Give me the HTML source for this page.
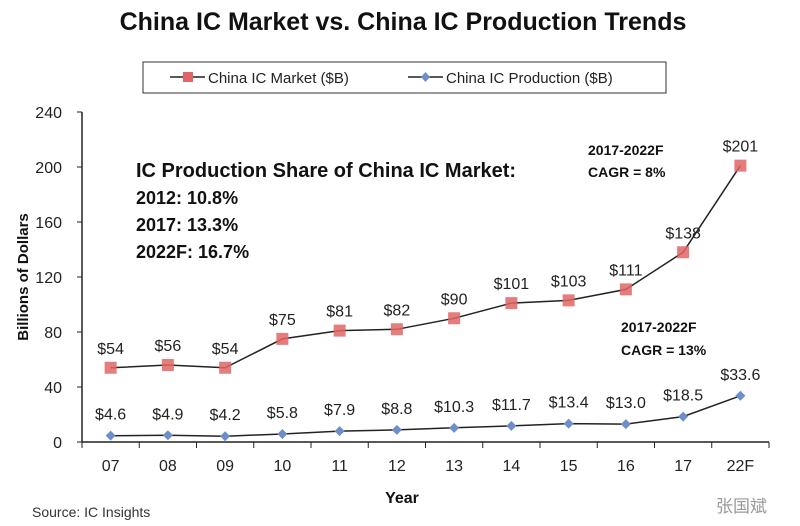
<!DOCTYPE html>
<html><head><meta charset="utf-8"><style>
body{margin:0;background:#fff;}
svg{display:block;font-family:"Liberation Sans","Noto Sans CJK SC",sans-serif;}
</style></head><body>
<svg id="c" width="800" height="526" viewBox="0 0 800 526">
<text x="403" y="30" text-anchor="middle" font-size="25" font-weight="bold" fill="#111">China IC Market vs. China IC Production Trends</text>
<g>
<rect x="143" y="62" width="523" height="31" fill="#fff" stroke="#333" stroke-width="1"/>
<g><line x1="170" y1="77" x2="205" y2="77" stroke="#222" stroke-width="1.5"/><rect x="183" y="72" width="10" height="10" fill="#e06666"/><text x="208" y="83" font-size="15" fill="#222">China IC Market ($B)</text></g>
<g><line x1="408" y1="77" x2="443" y2="77" stroke="#222" stroke-width="1.5"/><path d="M425.5 72 L430 77 L425.5 82 L421 77Z" fill="#6d8fc9"/><text x="446" y="83" font-size="15" fill="#222">China IC Production ($B)</text></g>
</g>
<text transform="translate(28,277) rotate(-90)" text-anchor="middle" font-size="15" font-weight="bold" fill="#111">Billions of Dollars</text>
<text x="402" y="503" text-anchor="middle" font-size="16" font-weight="bold" fill="#111">Year</text>
<text x="32" y="517" font-size="14" fill="#333">Source: IC Insights</text>
<text x="716" y="512" font-size="17" fill="#999">张国斌</text>
<g font-weight="bold" fill="#111">
<text x="136" y="177" font-size="20">IC Production Share of China IC Market:</text>
<text x="136" y="204" font-size="18">2012: 10.8%</text>
<text x="136" y="231" font-size="18">2017: 13.3%</text>
<text x="136" y="258" font-size="18">2022F: 16.7%</text>
</g>
<g font-weight="bold" fill="#111" font-size="14">
<text x="588" y="155">2017-2022F</text><text x="588" y="177">CAGR = 8%</text>
<text x="621" y="332">2017-2022F</text><text x="621" y="355">CAGR = 13%</text>
</g>
<g id="axes"></g><g id="series"></g>
</svg>
<script>
const categories=["07","08","09","10","11","12","13","14","15","16","17","22F"];
const marketValues=[54,56,54,75,81,82,90,101,103,111,138,201];
const productionValues=[4.6,4.9,4.2,5.8,7.9,8.8,10.3,11.7,13.4,13.0,18.5,33.6];
const marketLabels=["$54","$56","$54","$75","$81","$82","$90","$101","$103","$111","$138","$201"];
const productionLabels=["$4.6","$4.9","$4.2","$5.8","$7.9","$8.8","$10.3","$11.7","$13.4","$13.0","$18.5","$33.6"];
const yTicks=[0,40,80,120,160,200,240];
const NS="http://www.w3.org/2000/svg";
const X0=82,X1=769,Y0=442,Y1=112;
const bw=(X1-X0)/categories.length;
function x(i){return X0+bw*(i+0.5);}
function y(v){return Y0-(v/240)*(Y0-Y1);}
function mk(tag,attrs,parent,txt){const e=document.createElementNS(NS,tag);for(const k in attrs)e.setAttribute(k,attrs[k]);if(txt!==undefined)e.textContent=txt;parent.appendChild(e);return e;}
const ax=document.getElementById('axes'),se=document.getElementById('series');
let e=mk('line',{x1:X0,y1:Y1,x2:X0,y2:Y0,stroke:'#222','stroke-width':1.5},ax);


e=mk('line',{x1:X0,y1:Y0,x2:X1,y2:Y0,stroke:'#222','stroke-width':1.5},ax);


yTicks.forEach(t=>{
 mk('line',{x1:X0-5,y1:y(t),x2:X0,y2:y(t),stroke:'#222'},ax);
 e=mk('text',{x:X0-20,y:y(t)+6,'text-anchor':'end','font-size':16,fill:'#222'},ax,String(t));
 
 
});
categories.forEach((c,i)=>{
 mk('line',{x1:X0+bw*(i+1),y1:Y0,x2:X0+bw*(i+1),y2:Y0+6,stroke:'#222'},ax);
 mk('line',{x1:X0,y1:Y0,x2:X0,y2:Y0+6,stroke:'#222'},ax);
 e=mk('text',{x:x(i),y:Y0+29,'text-anchor':'middle','font-size':16,fill:'#222'},ax,c);
 
 
});
function line(vals){return vals.map((v,i)=>(i?'L':'M')+x(i).toFixed(1)+' '+y(v).toFixed(1)).join(' ');}
e=mk('path',{d:line(marketValues),fill:'none',stroke:'#222','stroke-width':1.5},se);


e=mk('path',{d:line(productionValues),fill:'none',stroke:'#222','stroke-width':1.5},se);


marketValues.forEach((v,i)=>{
 e=mk('rect',{x:x(i)-6,y:y(v)-6,width:12,height:12,fill:'#e06666',opacity:0.85},se);
 
 
 e=mk('text',{x:x(i),y:y(v)-14,'text-anchor':'middle','font-size':16,fill:'#222'},se,marketLabels[i]);
 
 
});
productionValues.forEach((v,i)=>{
 const cx=x(i),cy=y(v);
 e=mk('path',{d:`M${cx} ${cy-5} L${cx+5} ${cy} L${cx} ${cy+5} L${cx-5} ${cy}Z`,fill:'#6d8fc9'},se);
 
 
 e=mk('text',{x:cx,y:cy-16,'text-anchor':'middle','font-size':16,fill:'#222'},se,productionLabels[i]);
 
 
});
</script>
</body></html>
